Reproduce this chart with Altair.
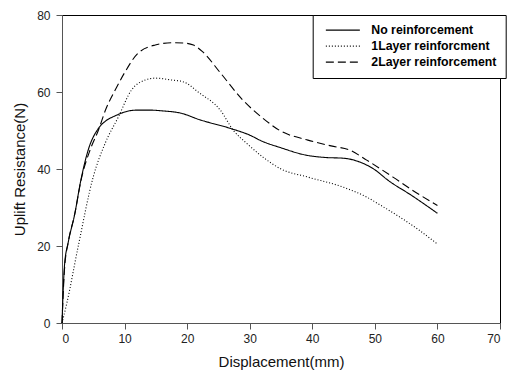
import altair as alt
import pandas as pd

# Uplift test curves: displacement (mm) vs uplift resistance (N)
series_names = ["No reinforcement", "1Layer reinforcment", "2Layer reinforcement"]

none_x = [0, 0.4, 1.0, 2, 3, 4.2, 5.8, 7, 8.5, 10, 12, 14, 16, 19, 22, 26.8, 30, 32,
          35, 39, 42, 45, 47.6, 50, 52, 56, 60]
none_y = [0, 15, 21, 28, 37, 45, 50.5, 52.5, 53.8, 54.8, 55.3, 55.3, 55.1, 54.5, 52.8,
          50.6, 48.8, 47.2, 45.5, 43.6, 43, 42.8, 41.8, 39.8, 37.2, 33, 28.5]

one_x = [0, 0.75, 2.6, 5, 6.9, 9, 11.1, 13.3, 14.9, 17.6, 19.3, 22, 25.3, 27.4, 29.5,
         32.1, 35, 39.3, 44.9, 48.7, 51, 54, 57, 60]
one_y = [0, 5, 20, 38, 46.7, 53.5, 60.5, 63.1, 63.6, 63.1, 62.7, 59.7, 55.3, 50, 46.7,
         43.1, 40, 37.9, 35.3, 32.7, 30.5, 27.5, 24.2, 20.5]

two_x = [0, 0.4, 1.0, 2, 3.1, 4.5, 5.8, 7, 8.5, 10, 12.1, 14.9, 17.6, 19.5, 21, 22.5,
         25.3, 28.9, 32.1, 34.8, 39.3, 43, 46, 48.7, 52.9, 56, 60]
two_y = [0, 14, 21, 28, 37.5, 45, 50, 55.5, 60.5, 65, 70, 72.2, 72.8, 72.7, 72.2, 70.4,
         65, 57.9, 53.2, 50, 47.5, 46, 44.9, 42.3, 37.9, 34.5, 30.5]

x_ticks = [0, 10, 20, 30, 40, 50, 60, 70]
y_ticks = [0, 20, 40, 60, 80]

frames = []
for name, xs, ys in [(series_names[0], none_x, none_y),
                     (series_names[1], one_x, one_y),
                     (series_names[2], two_x, two_y)]:
    frames.append(pd.DataFrame({"Displacement": xs, "Resistance": ys, "Series": name,
                                "order": range(len(xs))}))
df = pd.concat(frames, ignore_index=True)

FONT = "Liberation Sans"

# Flat legend swatch: a short path scaled by sqrt(size)/2 = 2, drawn rightwards
# from the symbol centre so the legend rows stay as tall as the label text.
SWATCH = "M-1,0H16"

chart = alt.Chart(df).mark_line(color="black", strokeWidth=1.1, interpolate="monotone").encode(
    x=alt.X("Displacement:Q",
            scale=alt.Scale(domain=[0, 70], nice=False, zero=False),
            axis=alt.Axis(title="Displacement(mm)", values=x_ticks, grid=False,
                          tickSize=6, labelPadding=4, titlePadding=10)),
    y=alt.Y("Resistance:Q",
            scale=alt.Scale(domain=[0, 80], nice=False),
            axis=alt.Axis(title="Uplift Resistance(N)", values=y_ticks, grid=False,
                          tickSize=6, labelPadding=6, titlePadding=9)),
    strokeDash=alt.StrokeDash("Series:N",
                              scale=alt.Scale(domain=series_names,
                                              range=[[1, 0], [1, 2], [8, 4]]),
                              legend=alt.Legend(title=None, orient="none",
                                                legendX=250.7, legendY=0,
                                                symbolType=SWATCH, symbolSize=16,
                                                symbolStrokeColor="black",
                                                symbolStrokeWidth=1.1,
                                                labelFont=FONT, labelFontSize=12.3,
                                                labelFontWeight="bold", labelColor="black",
                                                labelOffset=37.3, rowPadding=3,
                                                strokeColor="black", fillColor="white",
                                                padding=9, labelLimit=300)),
    order="order:Q",
).properties(
    width=438, height=308,
    autosize=alt.AutoSizeParams(type="none"),
    padding={"left": 62, "top": 15, "right": 11, "bottom": 51},
).configure_view(
    stroke="black", strokeWidth=1
).configure_axis(
    labelFont=FONT, labelFontSize=12, labelColor="#222",
    titleFont=FONT, titleFontSize=15, titleFontWeight="normal", titleColor="#111",
    domainColor="#555", tickColor="#555", domainWidth=1
)

chart.save("out.html", embed_options={"renderer": "svg", "actions": False})
